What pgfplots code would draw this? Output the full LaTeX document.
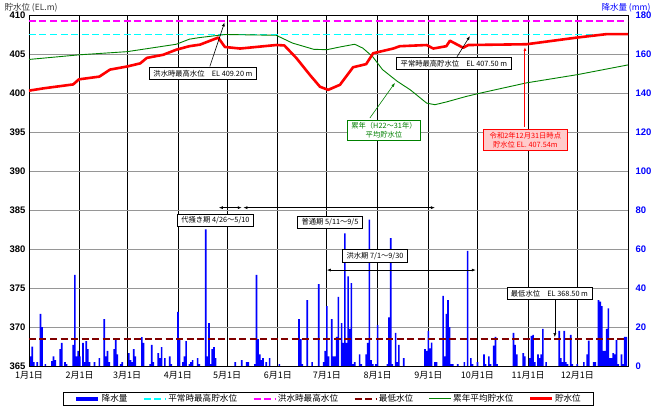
\documentclass[border=0pt]{standalone}
\usepackage{fontspec}
\setmainfont{Noto Sans CJK JP}
\newfontfamily\arial{Liberation Sans}
\usepackage{pgfplots}
\pgfplotsset{compat=1.18}
\usetikzlibrary{arrows.meta}

\definecolor{rainblue}{RGB}{0,0,255}
\definecolor{normcyan}{RGB}{0,255,255}
\definecolor{floodmag}{RGB}{255,0,255}
\definecolor{lowred}{RGB}{128,0,0}
\definecolor{avggreen}{RGB}{0,128,0}
\definecolor{levelred}{RGB}{255,0,0}
\definecolor{pinkbox}{RGB}{255,204,204}
\definecolor{gridgray}{RGB}{150,150,150}

\pgfplotsset{
  monthticks/.style={
    xmin=0, xmax=366,
    xtick={0,31,60,91,121,152,182,213,244,274,305,335},
  },
}

\begin{document}
\begin{tikzpicture}[x=1pt,y=1pt]
\useasboundingbox (-29,-46) rectangle (626,366);

% rainfall, right axis (drawn first, carries the grid)
\begin{axis}[
  at={(0,0)}, anchor=south west,
  scale only axis, width=599pt, height=351pt,
  monthticks,
  xticklabels={1月1日,2月1日,3月1日,4月1日,5月1日,6月1日,7月1日,8月1日,9月1日,10月1日,11月1日,12月1日},
  ymin=0, ymax=180, ytick={0,20,...,180},
  yticklabel pos=right,
  major tick length=0pt,
  xmajorgrids, ymajorgrids,
  major x grid style={black, line width=0.8pt},
  major y grid style={gridgray, line width=0.8pt},
  axis line style={black, line width=0.8pt},
  /pgf/number format/assume math mode=true,
  yticklabel style={text=rainblue, font=\arial\bfseries\fontsize{9.5}{10}\selectfont, xshift=4pt},
  xticklabel style={font=\fontsize{9}{10}\selectfont, yshift=-2pt},
]
\addplot[ybar, bar width=1, fill=rainblue, draw=none] coordinates {
(0,10.8) (1,5) (2,10) (3,2) (5,2) (7,26.7) (8,20) (10,1) (14,2.5) (15,5) (16,3)
(19,8.7) (20,11.8) (22,2) (23,1) (27,10.8) (28,46.7) (29,5) (30,7.7) (31,5)
(33,11.8) (34,2) (35,12.8) (36,8.7) (37,2) (40,2) (43,4) (46,24) (47,5) (48,7.7) (49,2)
(52,8.7) (53,13.8) (54,6) (56,1) (57,2) (61,6.6) (62,3) (63,2) (64,8.7) (65,5)
(69,14.8) (70,11.8) (74,1) (75,10.8) (76,2) (79,6.6) (80,4) (81,9.7) (83,4) (86,5) (87,1)
(91,27.7) (92,13.8) (94,2) (95,5) (96,12.8) (98,1) (99,2) (100,3) (103,4) (104,1)
(108,70) (109,5) (110,22) (111,1) (112,8.7) (113,9.7) (114,4)
(126,2) (130,3) (133,2) (134,2) (138,1) (139,46.7) (140,13.8) (141,6) (142,3) (143,4)
(145,2) (147,4) (153,1) (165,24) (166,13.8) (167,1) (170,33.8) (173,2) (177,42)
(180,2) (181,7.7) (182,30.7) (183,5) (185,24) (186,5) (187,5) (188,15) (189,35.5)
(191,22) (192,11.8) (193,68) (194,11.8) (195,46) (196,19) (197,42.5) (198,1) (199,2)
(202,6) (203,1) (206,6) (207,11.8) (208,75) (209,3) (210,1) (212,1) (213,21)
(219,1) (220,25) (221,65.6) (222,1) (224,17) (225,2) (226,10.8) (229,4)
(242,8.7) (243,7.7) (244,18) (245,9) (246,12) (248,2) (249,2)
(253,36) (254,5) (255,26.7) (256,33.8) (257,20) (258,1) (259,1) (262,1) (266,2)
(268,59) (270,4) (271,1) (274,2) (278,6) (279,1) (281,5) (282,1) (284,10.4) (285,15) (286,1)
(296,17) (297,10.8) (298,6) (302,6.6) (303,5) (306,4) (307,15.4) (308,16) (309,2)
(311,6) (312,4) (313,6) (314,19) (316,2) (324,18) (325,4) (326,2) (327,18) (328,2) (329,1)
(331,16) (332,1) (335,1) (339,2) (341,6) (342,13) (345,2) (346,2)
(348,33.8) (349,33) (350,30.7) (351,7.7) (352,7.7) (353,19) (354,29.5) (355,4) (356,4)
(357,6.6) (358,6) (359,13.3) (360,1) (362,6) (363,1) (364,15) (365,15)
};
\end{axis}

% water level, left axis
\begin{axis}[
  at={(0,0)}, anchor=south west,
  scale only axis, width=599pt, height=351pt,
  monthticks, xticklabels={},
  ymin=365, ymax=410, ytick={365,370,...,410},
  major tick length=0pt,
  axis line style={black, line width=0.8pt},
  /pgf/number format/assume math mode=true,
  yticklabel style={font=\arial\bfseries\fontsize{9.5}{10}\selectfont},
  legend image code/.code={\draw[#1] (0pt,0pt) -- (22pt,0pt);},
  legend columns=6,
  legend style={at={(0.5,-0.0741)}, anchor=north, draw=black, line width=0.8pt,
    font=\fontsize{8.6}{10}\selectfont, inner xsep=11pt, inner ysep=0.5pt,
    nodes={inner sep=1.5pt},
    /tikz/every even column/.append style={column sep=14pt}},
]
\addlegendimage{rainblue, line width=3.5pt}
\addlegendentry{降水量}
\addplot[normcyan, line width=1.8pt, dash pattern=on 7pt off 3.5pt] coordinates {(0,407.5) (366,407.5)};
\addlegendentry{平常時最高貯水位}
\addplot[floodmag, line width=1.8pt, dash pattern=on 7pt off 3.5pt] coordinates {(0,409.2) (366,409.2)};
\addlegendentry{洪水時最高水位}
\addplot[lowred, line width=1.8pt, dash pattern=on 7pt off 3.5pt] coordinates {(0,368.5) (366,368.5)};
\addlegendentry{最低水位}
\addplot[avggreen, line width=0.9pt] coordinates {
(0,404.3) (31,404.9) (60,405.3) (90,406.25) (98,406.9) (104,407.1) (120,407.5)
(151,407.4) (161,406.4) (174,405.6) (182,405.55) (190,405.9) (199,406.25) (204,405.75)
(210,404.65) (216,403.0) (225,401.5) (233,400.4) (243,398.7) (248,398.5) (255,398.85)
(267,399.55) (276,400.0) (304,401.3) (335,402.35) (366,403.6)
};
\addlegendentry{累年平均貯水位}
\addplot[levelred, line width=2.6pt, line join=round] coordinates {
(0,400.3) (9,400.6) (27,401.1) (30.5,401.75) (43,402.1) (49.5,403.0) (60,403.4)
(68,403.8) (72,404.5) (82,404.9) (90,405.55) (98,406.0) (104.5,406.2) (115.6,407.1)
(119.7,405.9) (129,405.7) (151,406.15) (156,406.1) (163.5,404.45) (171.7,402.3)
(177.8,400.8) (182.8,400.4) (190,401.05) (198,403.3) (206,403.7) (210.3,405.1)
(214.4,405.3) (222.5,405.7) (226.6,406.0) (243,406.15) (247,405.7) (255,406.0)
(257.2,406.7) (265.3,405.8) (268.4,406.15) (304,406.25) (334.6,407.1) (353,407.55) (366,407.54)
};
\addlegendentry{貯水位}

% annotations
\tikzset{anno/.style={draw=black, fill=white, line width=0.8pt, inner xsep=4pt, inner ysep=2.5pt,
  font=\fontsize{7.3}{9}\selectfont},
  arr/.style={-{Latex[length=4pt,width=3pt]}, line width=0.6pt}}
\draw[arr] (axis cs:110.5,403.4) -- (axis cs:119.5,409.05);
\node[anno] at (axis cs:106.3,402.5) {洪水時最高水位　EL 409.20 m};
\draw[arr] (axis cs:261.4,404.6) -- (axis cs:269.4,407.3);
\node[anno] at (axis cs:259.6,403.8) {平常時最高貯水位　EL 407.50 m};
\draw[arr, avggreen] (axis cs:208.3,396.8) -- (axis cs:223.6,401.3);
\node[anno, draw=avggreen, text=avggreen, align=center] at (axis cs:216.9,395.2) {累年（H22〜31年）\\平均貯水位};
\draw[arr, levelred, line width=1pt] (axis cs:303,395.7) -- (axis cs:303,405.9);
\node[anno, draw=levelred, fill=pinkbox, text=levelred, align=center, inner xsep=6pt] at (axis cs:303.3,394.0) {令和2年12月31日時点\\貯水位 EL. 407.54m};
\draw[{Latex[length=4pt,width=3pt]}-{Latex[length=4pt,width=3pt]}, line width=0.6pt] (axis cs:116,385.3) -- (axis cs:130,385.3);
\draw[{Latex[length=4pt,width=3pt]}-{Latex[length=4pt,width=3pt]}, line width=0.6pt] (axis cs:131,385.3) -- (axis cs:248,385.3);
\draw[{Latex[length=4pt,width=3pt]}-{Latex[length=4pt,width=3pt]}, line width=0.6pt] (axis cs:182,377.3) -- (axis cs:273,377.3);
\node[anno] at (axis cs:113.9,383.7) {代掻き期 4/26〜5/10};
\node[anno] at (axis cs:183.9,383.4) {普通期 5/11〜9/5};
\node[anno] at (axis cs:211.4,379.1) {洪水期 7/1〜9/30};
\draw[arr] (axis cs:321.3,373.4) -- (axis cs:321.3,368.7);
\node[anno] at (axis cs:318,374.3) {最低水位　EL 368.50 m};
\end{axis}

\node[anchor=west, font=\fontsize{8.5}{10}\selectfont, text=black!80] at (-28,358) {貯水位 (EL.m)};
\node[anchor=east, font=\fontsize{8.5}{10}\selectfont, text=rainblue] at (625,358) {降水量 (mm)};
\end{tikzpicture}
\end{document}
